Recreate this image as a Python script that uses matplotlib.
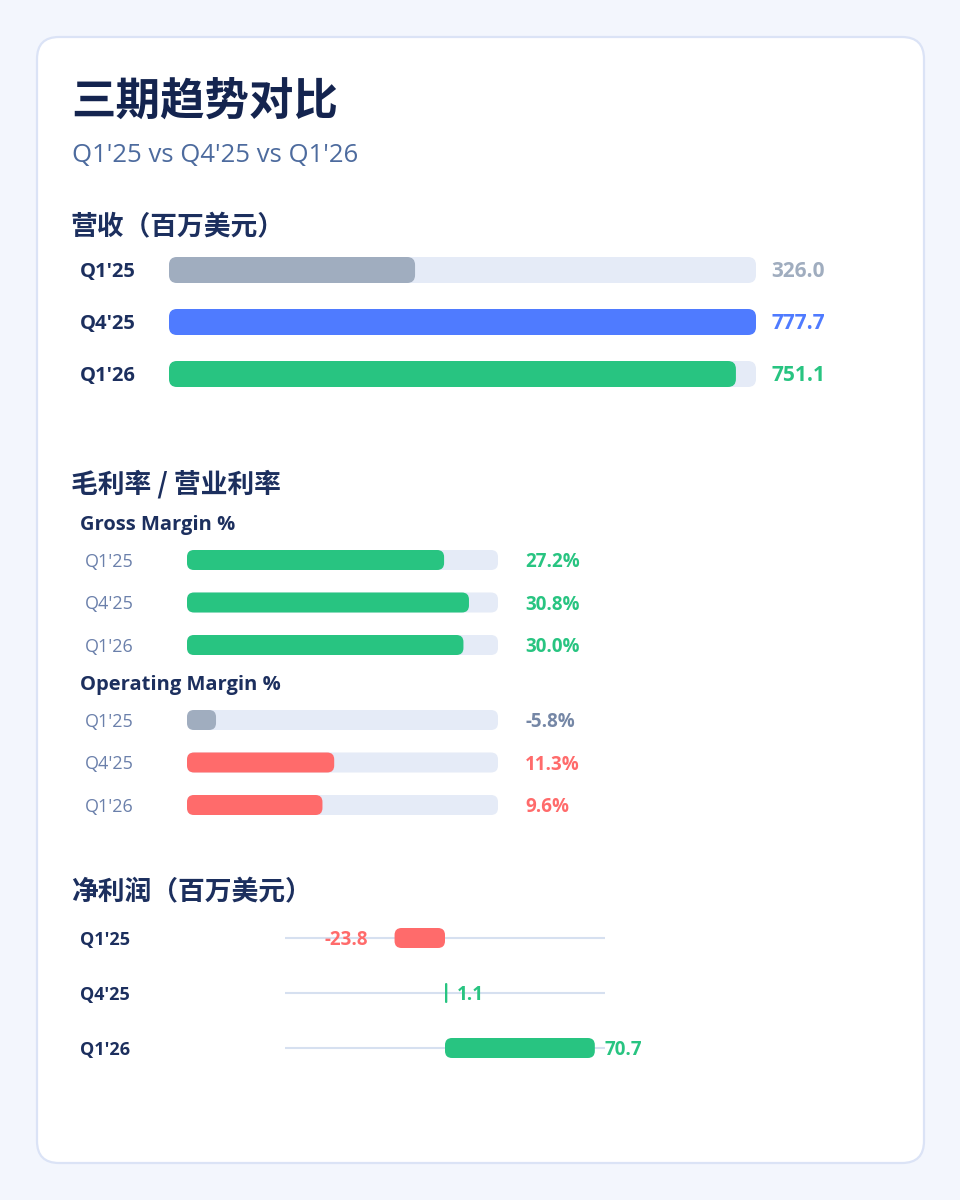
import numpy as np
import matplotlib
matplotlib.use("Agg")
import matplotlib.pyplot as plt
import matplotlib.transforms as mtransforms
from matplotlib.patches import FancyBboxPatch

plt.rcParams['font.family'] = ['Open Sans', 'Noto Sans CJK SC', 'DejaVu Sans']
CJK = ['Noto Sans CJK SC', 'DejaVu Sans']

# data
quarters = ["Q1'25", "Q4'25", "Q1'26"]
revenue = [326.0, 777.7, 751.1]
gross_margin = [27.2, 30.8, 30.0]
op_margin = [-5.8, 11.3, 9.6]
net_income = [-23.8, 1.1, 70.7]
margin_range = (-10, 35)
net_range = (-75.5, 75.5)

# colours
NAVY = '#14244f'
HEAD = '#1c2f5e'
TRACK = '#e5ebf7'
GRAY = '#a0adbf'
BLUE = '#4f7bff'
GREEN = '#28c481'
RED = '#ff6b6b'
rev_colors = [GRAY, BLUE, GREEN]
op_colors = [GRAY, RED, RED]
op_text_colors = ['#7587a6', RED, RED]

W, H = 960, 1200
fig = plt.figure(figsize=(W / 100, H / 100), dpi=100)
fig.patch.set_facecolor('#f3f6fd')

# background axes in pixel coordinates
bg = fig.add_axes([0, 0, 1, 1], zorder=0)
bg.set_xlim(0, W)
bg.set_ylim(H, 0)
bg.axis('off')
bg.add_patch(FancyBboxPatch((37, 37), 887, 1126, boxstyle='round,pad=0,rounding_size=22',
                            fc='white', ec='#dbe3f6', lw=1.6))


def px_axes(x0, x1, y0, y1):
    ax = fig.add_axes([x0 / W, 1 - y1 / H, (x1 - x0) / W, (y1 - y0) / H], zorder=1)
    ax.axis('off')
    ax.set_ylim(2.5, -0.5)
    return ax, (x1 - x0), (y1 - y0)


def round_bars(ax, bars, radius, pw, ph):
    xa, xb = ax.get_xlim()
    ya, yb = ax.get_ylim()
    sx = pw / abs(xb - xa)
    sy = ph / abs(yb - ya)
    for b in bars:
        x, y, w, h = b.get_x(), b.get_y(), b.get_width(), b.get_height()
        if w < 0:
            x, w = x + w, -w
        r = min(radius, w * sx / 2, h * sy / 2)
        p = FancyBboxPatch((x, y), w, h, boxstyle=f'round,pad=0,rounding_size={r / sx}',
                           mutation_aspect=sx / sy, fc=b.get_facecolor(), ec='none',
                           zorder=b.get_zorder())
        b.remove()
        ax.add_patch(p)


def mixed(ax):
    # x in page pixels, y in row units, nudged 2px down
    return (mtransforms.blended_transform_factory(bg.transData, ax.transData)
            + mtransforms.ScaledTranslation(0, -0.02, fig.dpi_scale_trans))


rows = np.arange(len(quarters))

# titles
bg.text(71, 102, '三期趋势对比', fontsize=32, fontweight='heavy', color=NAVY, va='center', family=CJK)
bg.text(72, 155, "Q1'25 vs Q4'25 vs Q1'26", fontsize=18.5, color='#4d6b9e', va='center')

# revenue
bg.text(71, 227, '营收（百万美元）', fontsize=19.3, fontweight='bold', color=HEAD, va='center', family=CJK)
ax, pw, ph = px_axes(169, 756, 244, 400)
ax.set_xlim(0, max(revenue))
tr = ax.barh(rows, [max(revenue)] * 3, height=0.5, color=TRACK)
fl = ax.barh(rows, revenue, height=0.5, color=rev_colors)
round_bars(ax, tr, 8, pw, ph)
round_bars(ax, fl, 8, pw, ph)
for i, q in enumerate(quarters):
    ax.text(80, i, q, transform=mixed(ax), fontsize=14.5, fontweight='bold', color=HEAD, va='center')
    ax.text(771, i, f'{revenue[i]:.1f}', transform=mixed(ax), fontsize=15, fontweight='bold',
            color=rev_colors[i], va='center')

# margins
bg.text(71, 484, '毛利率 / 营业利率', fontsize=19.3, fontweight='bold', color=HEAD, va='center', family=CJK)
blocks = [('Gross Margin %', 525, 538.75, gross_margin, [GREEN] * 3, [GREEN] * 3),
          ('Operating Margin %', 685, 698.75, op_margin, op_colors, op_text_colors)]
for name, hy, top, vals, cols, tcols in blocks:
    bg.text(80, hy, name, fontsize=14.5, fontweight='bold', color=HEAD, va='center')
    ax, pw, ph = px_axes(187, 498, top, top + 127.5)
    lo, hi = margin_range
    ax.set_xlim(lo, hi)
    tr = ax.barh(rows, [hi - lo] * 3, left=lo, height=20 / 42.5, color=TRACK)
    fl = ax.barh(rows, np.array(vals) - lo, left=lo, height=20 / 42.5, color=cols)
    round_bars(ax, tr, 7, pw, ph)
    round_bars(ax, fl, 7, pw, ph)
    for i, q in enumerate(quarters):
        ax.text(85, i, q, transform=mixed(ax), fontsize=13, color='#6b80ab', va='center')
        ax.text(525, i, f'{vals[i]:.1f}%', transform=mixed(ax), fontsize=13.5, fontweight='bold',
                color=tcols[i], va='center')

# net income
bg.text(71, 892, '净利润（百万美元）', fontsize=19.3, fontweight='bold', color=HEAD, va='center', family=CJK)
ax, pw, ph = px_axes(285, 605, 910.5, 1075.5)
ax.set_xlim(*net_range)
for i in rows:
    ax.axhline(i, color='#d6e0f0', lw=1.5, zorder=0)
net_colors = [RED if v < 0 else GREEN for v in net_income]
nb = ax.barh(rows, net_income, height=20 / 55, color=net_colors)
round_bars(ax, nb, 7, pw, ph)
for i, q in enumerate(quarters):
    v = net_income[i]
    ax.text(80, i, q, transform=mixed(ax), fontsize=13, fontweight='bold', color=HEAD, va='center')
    dx = -27 if v < 0 else 10
    ax.annotate(f'{v:.1f}', (v, i), xytext=(dx * 0.72, -2 * 0.72), textcoords='offset points',
                ha='right' if v < 0 else 'left', va='center', fontsize=13.5, fontweight='bold',
                color=net_colors[i])

fig.savefig('out.png', dpi=100, facecolor=fig.get_facecolor())
